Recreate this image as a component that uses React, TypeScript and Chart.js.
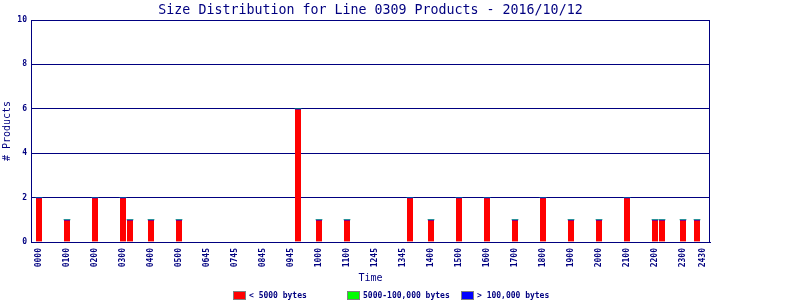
import React, { useEffect, useRef } from "react";
import { Chart, registerables } from "chart.js";

Chart.register(...registerables);

// ---- data ----
const chartTitle = "Size Distribution for Line 0309 Products - 2016/10/12";
const xAxisTitle = "Time";
const yAxisTitle = "# Products";

// tick labels and the time-slot positions they sit on
const tickSlots = [0, 4, 8, 12, 16, 20, 24, 28, 32, 36, 40, 44, 48, 52, 56, 60, 64, 68, 72, 76, 80, 84, 88, 92, 94.8];
const tickLabels = ["0000", "0100", "0200", "0300", "0400", "0500", "0645", "0745", "0845", "0945", "1000", "1100", "1245", "1345", "1400", "1500", "1600", "1700", "1800", "1900", "2000", "2100", "2200", "2300", "2430"];

// slots where products were recorded
const barSlots = [0, 4, 8, 12, 13, 16, 20, 37, 40, 44, 53, 56, 60, 64, 68, 72, 76, 80, 84, 88, 89, 92, 94];
const smallCounts = [2, 1, 2, 2, 1, 1, 1, 6, 1, 1, 2, 1, 2, 2, 1, 2, 1, 1, 2, 1, 1, 1, 1];
const mediumCounts = [0, 0, 0, 0, 0, 0, 0, 0, 0, 0, 0, 0, 0, 0, 0, 0, 0, 0, 0, 0, 0, 0, 0];
const largeCounts = [0, 0, 0, 0, 0, 0, 0, 0, 0, 0, 0, 0, 0, 0, 0, 0, 0, 0, 0, 0, 0, 0, 0];

const seriesNames = ["< 5000 bytes", "5000-100,000 bytes", "> 100,000 bytes"];
const seriesColors = ["#ff0000", "#00ff00", "#0000ff"];

const NAVY = "#000080";
const MONO = '"DejaVu Sans Mono", "Liberation Mono", monospace';

const decorPlugin = {
  id: "decor",
  afterDraw(chart: any) {
    const { ctx, chartArea } = chart;
    ctx.save();
    // right frame line
    ctx.strokeStyle = NAVY;
    ctx.lineWidth = 1;
    ctx.beginPath();
    ctx.moveTo(Math.round(chartArea.right) - 0.5, chartArea.top);
    ctx.lineTo(Math.round(chartArea.right) - 0.5, chartArea.bottom);
    ctx.stroke();
    // title
    ctx.fillStyle = NAVY;
    ctx.font = `13.3px ${MONO}`;
    ctx.textAlign = "center";
    ctx.textBaseline = "alphabetic";
    ctx.fillText(chartTitle, (chartArea.left + chartArea.right) / 2, 14);
    // legend
    ctx.font = `bold 8px ${MONO}`;
    ctx.textAlign = "left";
    seriesNames.forEach((name, i) => {
      const x = 233 + i * 114;
      ctx.fillStyle = seriesColors[i];
      ctx.fillRect(x, 291, 13, 9);
      ctx.strokeStyle = "#808080";
      ctx.strokeRect(x + 0.5, 291.5, 12, 8);
      ctx.fillStyle = NAVY;
      ctx.fillText(name, x + 16, 298);
    });
    ctx.restore();
  },
};

export default function App() {
  const ref = useRef<HTMLCanvasElement>(null);
  useEffect(() => {
    const mk = (vals: number[]) => barSlots.map((s, i) => ({ x: s, y: vals[i] }));
    const chart = new Chart(ref.current as HTMLCanvasElement, {
      type: "bar",
      data: {
        datasets: [
          {
            label: seriesNames[0],
            data: mk(smallCounts),
            backgroundColor: seriesColors[0],
            borderColor: seriesColors[2],
            borderWidth: { top: 1, left: 0, right: 0, bottom: 0 },
            borderSkipped: "start",
            barThickness: 6,
          },
          {
            label: seriesNames[1],
            data: mk(mediumCounts),
            backgroundColor: seriesColors[1],
            barThickness: 6,
          },
          {
            label: seriesNames[2],
            data: mk(largeCounts),
            backgroundColor: seriesColors[2],
            barThickness: 6,
          },
        ],
      },
      options: {
        animation: false,
        responsive: false,
        layout: { padding: { top: 20, right: 90, bottom: 0, left: 0 } },
        plugins: { legend: { display: false }, title: { display: false }, tooltip: { enabled: false } },
        scales: {
          x: {
            type: "linear",
            stacked: true,
            offset: false,
            min: -8 / 7,
            max: 671 / 7,
            afterFit: (s: any) => { s.height = 58; },
            afterBuildTicks: (s: any) => { s.ticks = tickSlots.map((v) => ({ value: v })); },
            grid: { display: false, drawTicks: false, offset: false },
            border: { color: NAVY, width: 1 },
            ticks: {
              autoSkip: false,
              maxRotation: 90,
              minRotation: 90,
              padding: 6,
              color: NAVY,
              font: { family: MONO, size: 8, weight: "bold" },
              callback: (_v: any, i: number) => tickLabels[i],
            },
            title: {
              display: true,
              text: xAxisTitle,
              color: NAVY,
              font: { family: MONO, size: 10 },
              padding: { top: 0, bottom: 16 },
            },
          },
          y: {
            stacked: true,
            min: 0,
            max: 10,
            afterFit: (s: any) => { s.width = 31; },
            grid: { color: NAVY, lineWidth: 1, drawTicks: false },
            border: { color: NAVY, width: 1 },
            ticks: {
              stepSize: 2,
              padding: 4,
              color: NAVY,
              font: { family: MONO, size: 8, weight: "bold" },
            },
            title: {
              display: true,
              text: yAxisTitle,
              color: NAVY,
              font: { family: MONO, size: 10 },
              padding: { top: 1.5, bottom: 0 },
            },
          },
        },
      },
      plugins: [decorPlugin],
    } as any);
    return () => chart.destroy();
  }, []);
  return (
    <div style={{ position: "absolute", left: 0, top: 0, width: 800, height: 300, background: "#fff" }}>
      <canvas ref={ref} width={800} height={300} />
    </div>
  );
}
